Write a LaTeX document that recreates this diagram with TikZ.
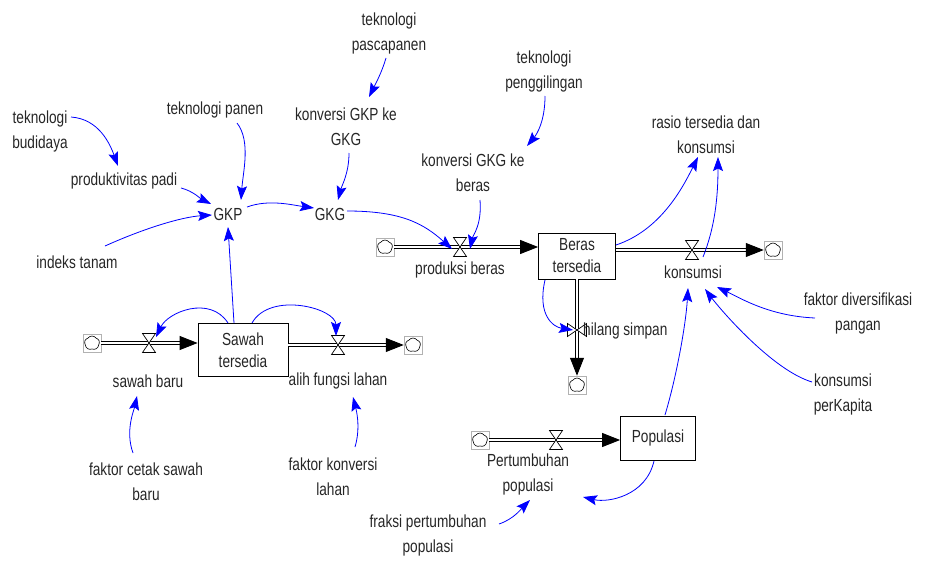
\documentclass[tikz,border=0pt]{standalone}
\usepackage{fontspec}
\setmainfont{Liberation Sans}[FakeStretch=0.78]
\usetikzlibrary{arrows.meta,calc,shapes.symbols}
\begin{document}
\begin{tikzpicture}[x=1pt,y=-1pt,
  lbl/.style={font=\fontsize{17.5}{25}\selectfont, text=black!85, align=center, inner sep=0},
  stock/.style={draw=black, line width=0.8pt, fill=white, align=center, font=\fontsize{17.5}{22}\selectfont, text=black!85, inner sep=0},
  conn/.style={draw=blue, line width=0.8pt, -{Stealth[length=14pt,width=10pt,inset=2.5pt]}},
  pipe/.style={draw=black, double=white, double distance=2.6pt, line width=0.9pt, -{Triangle[length=18pt,width=14pt]}},
  cloudbox/.style={draw=black!30, line width=0.5pt, minimum width=18pt, minimum height=18pt, inner sep=0},
  cloudin/.style={cloud, cloud puffs=5, cloud puff arc=110, draw=black, line width=0.6pt, minimum width=15pt, minimum height=14pt, inner sep=0, aspect=1.05},
  pics/valveH/.style={code={\draw[fill=white,line width=0.7pt] (-6.5,-9.5) -- (6.5,-9.5) -- (-6.5,9.5) -- (6.5,9.5) -- cycle;}},
]
\useasboundingbox (0,0) rectangle (927,562);

% text variables
\node[lbl] (bud) at (40,131) {teknologi\\budidaya};
\node[lbl] (prod) at (124,181) {produktivitas padi};
\node[lbl] (panen) at (215,110) {teknologi panen};
\node[lbl] (GKP) at (228,214) {GKP};
\node[lbl] (indeks) at (77,262) {indeks tanam};
\node[lbl] (GKG) at (330,214) {GKG};
\node[lbl] (pasca) at (389,33) {teknologi\\pascapanen};
\node[lbl] (kGKP) at (346,127) {konversi GKP ke\\GKG};
\node[lbl] (giling) at (544,71) {teknologi\\penggilingan};
\node[lbl] (kGKG) at (473,173) {konversi GKG ke\\beras};
\node[lbl] (rasio) at (706,135) {rasio tersedia dan\\konsumsi};
\node[lbl] (divers) at (858,313) {faktor diversifikasi\\pangan};
\node[lbl] (perkap) at (843,394) {konsumsi\\perKapita};
\node[lbl] (cetak) at (146,482) {faktor cetak sawah\\baru};
\node[lbl] (konvlahan) at (333,477) {faktor konversi\\lahan};
\node[lbl] (fraksi) at (428,535) {fraksi pertumbuhan\\populasi};

% stocks
\node[stock, minimum width=90, minimum height=53] (sawah) at (243,350) {Sawah\\tersedia};
\node[stock, minimum width=77, minimum height=46] (beras) at (577,256) {Beras\\tersedia};
\node[stock, minimum width=75, minimum height=44] (pop) at (658,438) {Populasi};

% clouds
\node[cloudbox] (c1) at (92,343) {};
\node[cloudbox] (c2) at (413,345) {};
\node[cloudbox] (c3) at (385,247) {};
\node[cloudbox] (c4) at (773,250) {};
\node[cloudbox] (c5) at (577,385) {};
\node[cloudbox] (c6) at (480,440) {};
\foreach \c in {c1,c2,c3,c4,c5,c6} \node[cloudin] (\c i) at (\c) {};

% pipes
\draw[pipe] (c1.east) -- (c1 -| sawah.west);
\draw[pipe] (c2 -| sawah.east) -- (c2.west);
\draw[pipe] (c3.east) -- (c3 -| beras.west);
\draw[pipe] (c4 -| beras.east) -- (c4.west);
\draw[pipe] (c5 |- beras.south) -- (c5.north);
\draw[pipe] (c6.east) -- (c6 -| pop.west);

% valves
\coordinate (v1) at (149,343);
\coordinate (v2) at (338,345);
\coordinate (v3) at (460,247);
\coordinate (v4) at (577,330);
\coordinate (v5) at (692,250);
\coordinate (v6) at (556,440);
\pic at (v1) {valveH};
\pic at (v2) {valveH};
\pic at (v3) {valveH};
\pic[rotate=90] at (v4) {valveH};
\pic at (v5) {valveH};
\pic at (v6) {valveH};

% flow labels
\node[lbl] (sbaru) at (148,381) {sawah baru};
\node[lbl] (alih) at (338,381) {alih fungsi lahan};
\node[lbl] (prodlab) at (460,270) {produksi beras};
\node[lbl] (konslab) at (693,272) {konsumsi};
\node[lbl, anchor=west] (hilang) at (583,331) {hilang simpan};
\node[lbl] (pertlab) at (528,474) {Pertumbuhan\\populasi};

% connectors
\draw[conn] ($(bud)+(31,-14)$) .. controls +(28,2) and +(-8,-22) .. ($(prod)+(-6,-15)$);
\draw[conn] ($(prod)+(57,7)$) .. controls +(12,3) and +(-10,-5) .. ($(GKP)+(-17,-10)$);
\draw[conn] ($(panen)+(22,13)$) .. controls +(14,18) and +(2,-28) .. ($(GKP)+(13,-14)$);
\draw[conn] ($(indeks)+(28,-16)$) .. controls +(40,-18) and +(-30,2) .. ($(GKP)+(-16,1)$);
\draw[conn] ($(GKP)+(19,-7)$) .. controls +(22,-8) and +(-22,-3) .. ($(GKG)+(-16,-6)$);
\draw[conn] ($(sawah)+(-9,-27)$) -- ($(GKP)+(0,13)$);
\draw[conn] ($(pasca)+(-3,25)$) .. controls +(-4,14) and +(6,-12) .. ($(kGKP)+(23,-30)$);
\draw[conn] ($(kGKP)+(3,26)$) .. controls +(0,20) and +(4,-15) .. ($(GKG)+(8,-14)$);
\draw[conn] ($(giling)+(1,25)$) .. controls +(0,25) and +(10,-12) .. ($(kGKG)+(54,-27)$);
\draw[conn] ($(GKG)+(17,-3)$) .. controls +(55,0) and +(-28,-25) .. ($(v3)+(-8,2)$);
\draw[conn] ($(kGKG)+(7,27)$) .. controls +(2,25) and +(3,-14) .. ($(v3)+(10,2)$);
\draw[conn] ($(sawah)+(-15,-27)$) .. controls +(-18,-28) and +(12,-25) .. ($(v1)+(7,-6)$);
\draw[conn] ($(sawah)+(9,-27)$) .. controls +(18,-32) and +(0,-28) .. ($(v2)+(-2,-9)$);
\draw[conn] ($(cetak)+(-13,-29)$) .. controls +(-8,-22) and +(-3,14) .. ($(sbaru)+(-11,15)$);
\draw[conn] ($(konvlahan)+(22,-30)$) .. controls +(6,-20) and +(3,12) .. ($(alih)+(15,16)$);
\draw[conn] ($(beras)+(39,-11)$) .. controls +(45,-15) and +(-15,30) .. ($(rasio)+(-8,22)$);
\draw[conn] ($(v5)+(11,7)$) .. controls +(12,-30) and +(0,40) .. ($(rasio)+(12,22)$);
\draw[conn] ($(divers)+(-43,5)$) .. controls +(-45,-2) and +(25,12) .. ($(konslab)+(24,15)$);
\draw[conn] ($(perkap)+(-31,-12)$) .. controls +(-40,-12) and +(15,20) .. ($(konslab)+(12,17)$);
\draw[conn] ($(pop)+(7,-23)$) .. controls +(12,-40) and +(-2,35) .. ($(konslab)+(-5,16)$);
\draw[conn] ($(pop)+(-4,23)$) .. controls +(-8,35) and +(25,6) .. ($(pertlab)+(55,23)$);
\draw[conn] ($(fraksi)+(71,-11)$) .. controls +(15,-5) and +(-8,8) .. ($(pertlab)+(2,26)$);
\draw[conn] ($(beras)+(-32,24)$) .. controls +(-8,35) and +(-20,-3) .. ($(v4)+(-4,0)$);
\end{tikzpicture}
\end{document}
